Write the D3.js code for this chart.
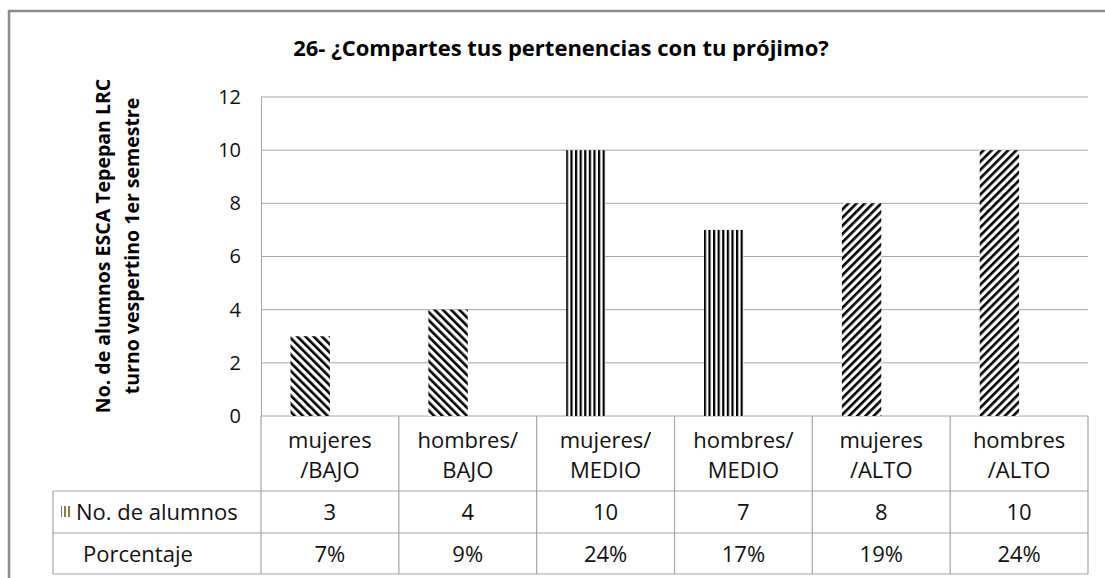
<!DOCTYPE html>
<html>
<head>
<meta charset="utf-8">
<script src="https://cdn.jsdelivr.net/npm/d3@7"></script>
<style>
  body { margin: 0; background: #fff; }
  svg { display: block; font-family: "Open Sans", "Noto Sans", sans-serif; }
</style>
</head>
<body>
<div id="chart"></div>
<script>
const categories = [["mujeres", "/BAJO"], ["hombres/", "BAJO"], ["mujeres/", "MEDIO"],
                    ["hombres/", "MEDIO"], ["mujeres", "/ALTO"], ["hombres", "/ALTO"]];
const alumnos = [3, 4, 10, 7, 8, 10];
const porcentaje = ["7%", "9%", "24%", "17%", "19%", "24%"];
const patternOf = ["down", "down", "vert", "vert", "up", "up"];
const yTicks = [0, 2, 4, 6, 8, 10, 12];
const seriesNames = ["No. de alumnos", "Porcentaje"];

const W = 1105, H = 578;
const plot = {left: 261, right: 1088, top: 97, bottom: 416};
const tableLeft = 53, rowH = [75, 42, 41];

const svg = d3.select("#chart").append("svg")
  .attr("width", W).attr("height", H);

// patterns
const defs = svg.append("defs");
function stripes(id, angle, period, thick, color) {
  const p = defs.append("pattern")
    .attr("id", id)
    .attr("patternUnits", "userSpaceOnUse")
    .attr("width", period).attr("height", period)
    .attr("patternTransform", `rotate(${angle})`);
  p.append("rect").attr("width", period).attr("height", period).attr("fill", "#fff");
  p.append("rect").attr("width", thick).attr("height", period).attr("fill", color);
}
stripes("down", -45, 5.8, 2.6, "#000");
stripes("up", 45, 5.8, 2.6, "#000");
stripes("vert", 0, 4.6, 2.2, "#000");
stripes("key", 0, 4, 2, "#8a7d4c");

// frame
svg.append("path")
  .attr("d", `M9,${H} V11 H${W}`)
  .attr("fill", "none").attr("stroke", "#8c8c8c").attr("stroke-width", 2.5);

// title
svg.append("text")
  .attr("x", 561).attr("y", 56)
  .attr("text-anchor", "middle")
  .style("font-size", "22px").style("font-weight", "bold")
  .text("26- ¿Compartes tus pertenencias con tu prójimo?");

const x = d3.scaleBand().domain(d3.range(categories.length))
  .range([plot.left, plot.right]).paddingInner(0).paddingOuter(0);
const xs = d3.scaleBand().domain(seriesNames)
  .range([0, x.bandwidth()]).paddingInner(0).paddingOuter(0.75);
const y = d3.scaleLinear().domain([0, 12]).range([plot.bottom, plot.top]);

// gridlines
svg.append("g").selectAll("line").data(yTicks).join("line")
  .attr("x1", plot.left).attr("x2", plot.right)
  .attr("y1", d => y(d)).attr("y2", d => y(d))
  .attr("stroke", "#a6a6a6").attr("stroke-width", 1);

// y axis
const yAxis = svg.append("g")
  .attr("transform", `translate(${plot.left},0)`)
  .call(d3.axisLeft(y).tickValues(yTicks).tickSize(0).tickPadding(20));
yAxis.select(".domain").attr("stroke", "#a6a6a6");
yAxis.selectAll("text").style("font-size", "20px").style("font-family", "Open Sans").attr("fill", "#111");

// y title
const yt = svg.append("text")
  .attr("transform", `translate(0,246) rotate(-90)`)
  .attr("text-anchor", "middle")
  .style("font-size", "19.5px").style("font-weight", "bold");
yt.append("tspan").attr("x", 0).attr("y", 110).text("No. de alumnos ESCA Tepepan LRC");
yt.append("tspan").attr("x", 0).attr("y", 139).text("turno vespertino 1er  semestre");

// bars
svg.append("g").selectAll("rect").data(alumnos).join("rect")
  .attr("x", (d, i) => x(i) + xs(seriesNames[0]))
  .attr("width", xs.bandwidth())
  .attr("y", d => y(d))
  .attr("height", d => y(0) - y(d))
  .attr("fill", (d, i) => `url(#${patternOf[i]})`);

// data table
const t = svg.append("g").attr("stroke", "#a6a6a6").attr("stroke-width", 1.2);
const r1 = plot.bottom, r2 = r1 + rowH[0], r3 = r2 + rowH[1], r4 = r3 + rowH[2];
[r2, r3, r4].forEach(yy => t.append("line").attr("x1", tableLeft).attr("x2", plot.right).attr("y1", yy).attr("y2", yy));
t.append("line").attr("x1", tableLeft).attr("x2", tableLeft).attr("y1", r2).attr("y2", r4);
d3.range(categories.length + 1).forEach(i => {
  const xx = i < categories.length ? x(i) : plot.right;
  t.append("line").attr("x1", xx).attr("x2", xx).attr("y1", r1).attr("y2", r4);
});

const cell = svg.append("g").style("font-size", "22px").attr("fill", "#111").attr("text-anchor", "middle");
categories.forEach((c, i) => {
  const cx = x(i) + x.bandwidth() / 2;
  cell.append("text").attr("x", cx).attr("y", r1 + 32).text(c[0]);
  cell.append("text").attr("x", cx).attr("y", r1 + 62).text(c[1]);
  cell.append("text").attr("x", cx).attr("y", r2 + 29).text(alumnos[i]);
  cell.append("text").attr("x", cx).attr("y", r3 + 29).text(porcentaje[i]);
});

svg.append("rect").attr("x", 61).attr("y", r2 + 15).attr("width", 11).attr("height", 11)
  .attr("fill", "url(#key)");
svg.append("text").attr("x", 76).attr("y", r2 + 29).style("font-size", "22px").attr("fill", "#111")
  .text(seriesNames[0]);
svg.append("text").attr("x", 83).attr("y", r3 + 29).style("font-size", "22px").attr("fill", "#111")
  .text(seriesNames[1]);
</script>
</body>
</html>
